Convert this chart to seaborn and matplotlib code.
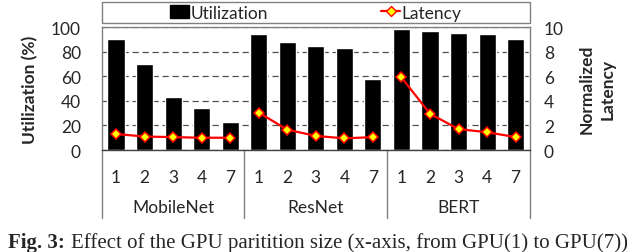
import pandas as pd
import matplotlib.pyplot as plt
import seaborn as sns
from matplotlib.patches import Rectangle

# === DATA ===
models = ['MobileNet', 'ResNet', 'BERT']
sizes = ['1', '2', '3', '4', '7']
utilization = {
    'MobileNet': [90, 70, 43, 34, 23],
    'ResNet': [94, 88, 85, 83, 57.5],
    'BERT': [98.5, 97, 95, 94, 90],
}
latency = {
    'MobileNet': [1.3, 1.1, 1.05, 1.0, 1.0],
    'ResNet': [3.05, 1.65, 1.15, 0.95, 1.05],
    'BERT': [5.9, 2.95, 1.7, 1.45, 1.05],
}
caption_bold = 'Fig. 3:'
caption_rest = 'Effect of the GPU paritition size (x-axis, from GPU(1) to GPU(7))'

rows = []
for m in models:
    for s, u, l in zip(sizes, utilization[m], latency[m]):
        rows.append({'model': m, 'size': s, 'slot': f'{m}-{s}', 'util': u, 'lat': l})
df = pd.DataFrame(rows)
df['pos'] = range(len(df))

sns.set_style('white')
plt.rcParams['font.family'] = ['Lato', 'DejaVu Sans']
FS = 12.5

fig = plt.figure(figsize=(6.4, 2.53), dpi=100)
ax = fig.add_axes([0.159, 0.403, 0.669, 0.486])

sns.barplot(data=df, x='slot', y='util', color='black', width=0.6,
            saturation=1, ax=ax, zorder=2)
ax.set_ylim(0, 100)
ax.set_yticks(range(0, 101, 20))
ax.yaxis.grid(True, linestyle=(0, (5, 3)), color='#505050', linewidth=0.9, zorder=0)
ax.set_axisbelow(True)
ax.set_xlim(-0.5, len(df) - 0.5)
ax.set_xticks(df['pos'])
ax.set_xticklabels(df['size'], fontsize=FS)
ax.tick_params(axis='x', length=0, pad=14)
ax.tick_params(axis='y', length=0, labelsize=FS, pad=15)
ax.set_xlabel('')
ax.set_ylabel('Utilization (%)', fontsize=FS, fontweight='bold', labelpad=9)
for sp in ax.spines.values():
    sp.set_color('#808080')
    sp.set_linewidth(1)
ax.spines['bottom'].set_color('#404040')

ax2 = ax.twinx()
sns.lineplot(data=df, x='pos', y='lat', units='model', estimator=None,
             color='red', linewidth=1.6, marker='D', markersize=5.5,
             markerfacecolor='#ffff00', markeredgecolor='red', markeredgewidth=1.1,
             ax=ax2, zorder=3)
ax2.set_ylim(0, 10)
ax2.set_yticks(range(0, 11, 2))
ax2.tick_params(axis='y', length=0, labelsize=FS, pad=10)
ax2.set_ylabel('Normalized\nLatency', fontsize=FS, fontweight='bold', labelpad=11,
               linespacing=1.35)
ax2.set_xlim(-0.5, len(df) - 0.5)
for sp in ax2.spines.values():
    sp.set_visible(False)

# group labels and separators under the axis
trans = ax.get_xaxis_transform()
for i, m in enumerate(models):
    ax.text(i * 5 + 2, -0.465, m, transform=trans, ha='center', va='center', fontsize=FS)
for i in range(len(models) + 1):
    ax.plot([i * 5 - 0.5, i * 5 - 0.5], [0, -0.555], transform=trans, color='#808080',
            linewidth=1, clip_on=False)

# legend box across the top
box = Rectangle((0, 1.03), 1, 0.175, transform=ax.transAxes, fill=False,
                edgecolor='#808080', linewidth=1, clip_on=False)
ax.add_patch(box)
h_bar = Rectangle((0, 0), 1, 1, color='black')
h_line, = ax2.plot([], [], color='red', linewidth=1.6, marker='D', markersize=5.5,
                   markerfacecolor='#ffff00', markeredgecolor='red')
leg = ax.legend([h_bar, h_line], ['Utilization', 'Latency'], ncol=2, loc='center',
                bbox_to_anchor=(0.5, 1.118), frameon=False, fontsize=FS,
                columnspacing=6.5, handlelength=1.1, handletextpad=0.1)
if ax2.get_legend() is not None:
    ax2.get_legend().remove()

# caption
t1 = fig.text(0.012, 0.04, caption_bold, fontsize=15, fontweight='bold',
              family='Liberation Serif', va='center')
fig.canvas.draw()
bb = t1.get_window_extent()
x2 = (bb.x1 + 6) / fig.bbox.width
fig.text(x2, 0.04, caption_rest, fontsize=15, family='Liberation Serif', va='center')

plt.savefig('out.png', dpi=100)
